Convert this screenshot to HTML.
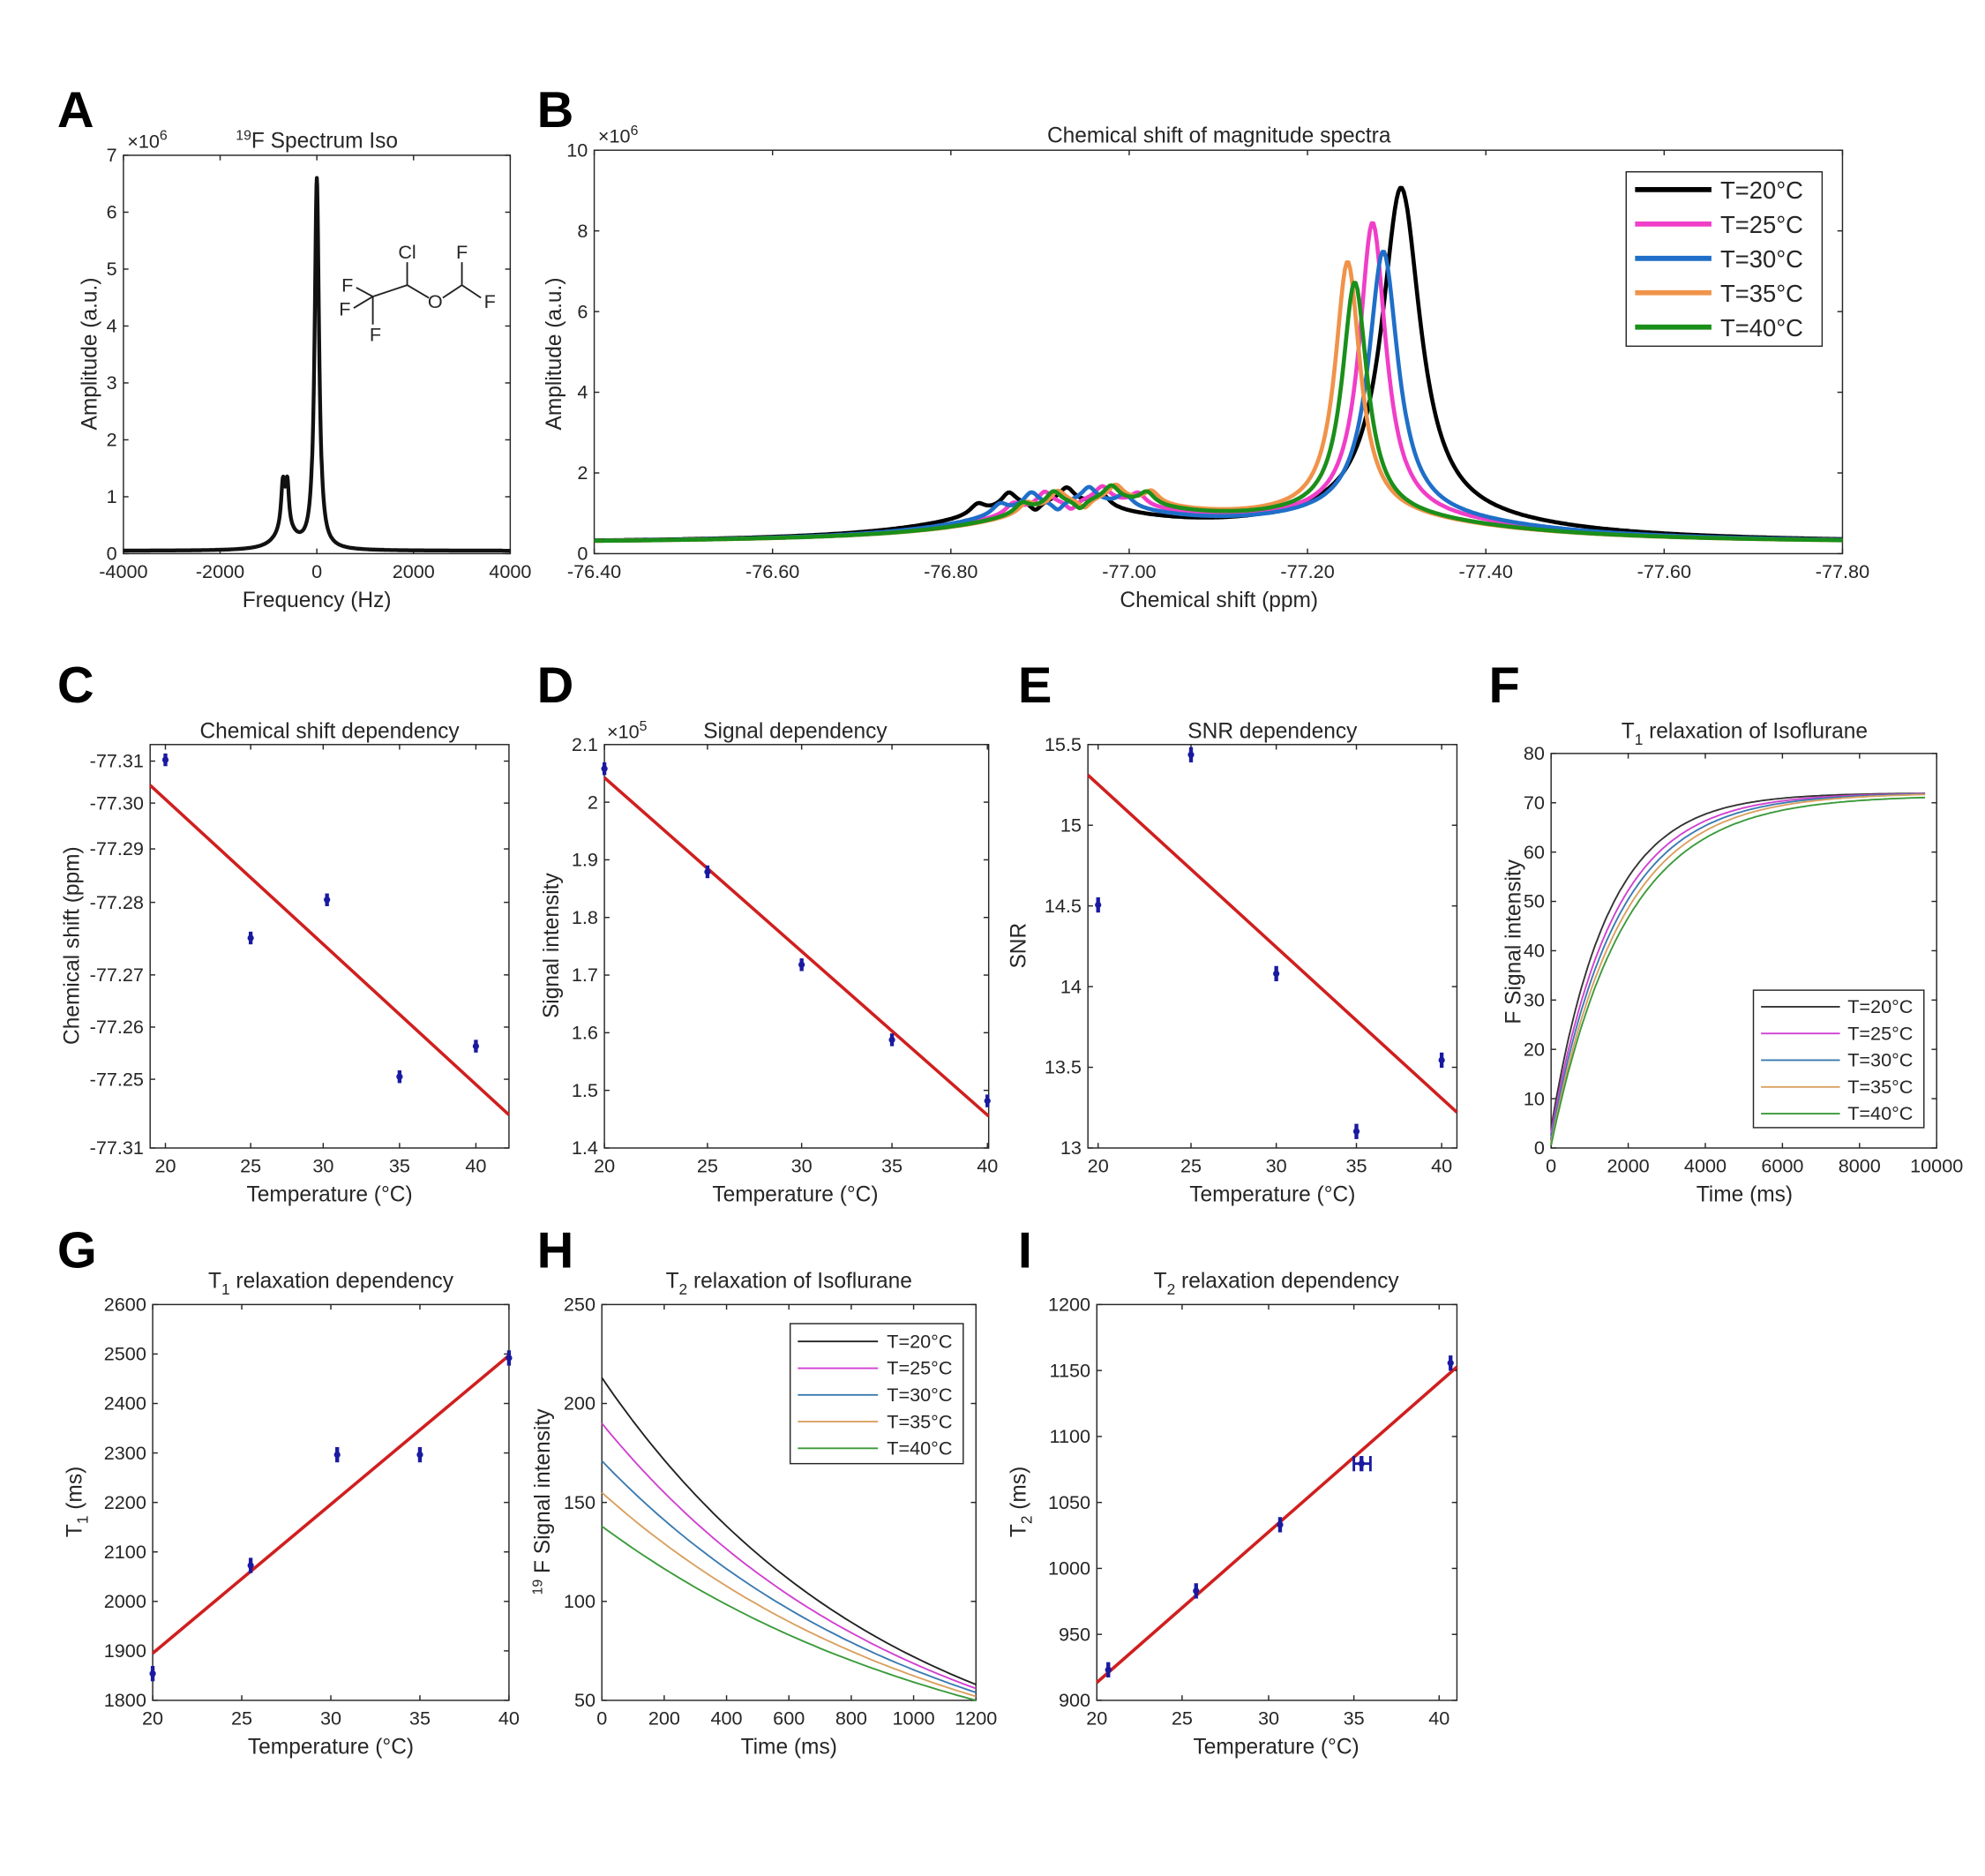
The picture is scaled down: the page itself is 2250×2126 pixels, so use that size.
<!DOCTYPE html>
<html><head><meta charset="utf-8"><style>
html,body{margin:0;padding:0;background:#fff;}
svg{display:block;}
text{font-family:"Liberation Sans",Arial,sans-serif;fill:#262626;}
.t{font-size:15px;}
.ti{font-size:17px;}
.lb{font-size:17px;}
.L{font-size:40px;font-weight:bold;fill:#000;}
.ax{fill:none;stroke:#262626;stroke-width:1;}
</style></head><body>
<svg id="s" width="2250" height="2126" viewBox="0 0 1560 1474" xmlns="http://www.w3.org/2000/svg">
<rect width="1560" height="1474" fill="#fff"/>
<g id="g"></g>
</svg>
<script>
var g=document.getElementById('g');var out='';
function T(x,y,s,cls,anchor,extra){out+='<text x="'+x+'" y="'+y+'" class="'+(cls||'t')+'" text-anchor="'+(anchor||'middle')+'" '+(extra||'')+'>'+s+'</text>';}
function box(x0,y0,x1,y1){out+='<rect x="'+x0+'" y="'+y0+'" width="'+(x1-x0)+'" height="'+(y1-y0)+'" class="ax"/>';}
function xt(x,y0,y1,lab){out+='<line x1="'+x+'" y1="'+y1+'" x2="'+x+'" y2="'+(y1-4)+'" stroke="#262626"/><line x1="'+x+'" y1="'+y0+'" x2="'+x+'" y2="'+(y0+4)+'" stroke="#262626"/>';T(x,y1+19,lab);}
function yt(y,x0,x1,lab){out+='<line x1="'+x0+'" y1="'+y+'" x2="'+(x0+4)+'" y2="'+y+'" stroke="#262626"/><line x1="'+x1+'" y1="'+y+'" x2="'+(x1-4)+'" y2="'+y+'" stroke="#262626"/>';T(x0-5,y+5,lab,'t','end');}
function path(pts,col,w){var d='M'+pts.map(function(p){return p[0].toFixed(1)+','+p[1].toFixed(1)}).join('L');out+='<path d="'+d+'" fill="none" stroke="'+col+'" stroke-width="'+w+'" stroke-linejoin="round"/>';}
function line(a,b,c,d,col,w){out+='<line x1="'+a+'" y1="'+b+'" x2="'+c+'" y2="'+d+'" stroke="'+col+'" stroke-width="'+w+'"/>';}
function pt(x,y,h){line(x,y-h,x,y+h,'#1a1aa0',3);out+='<circle cx="'+x+'" cy="'+y+'" r="2.5" fill="#1a1aa0"/>';}
function lor(x,c,w){return 1/(1+Math.pow((x-c)/w,2));}

T(45,100,'A','L','start');T(422,100,'B','L','start');T(45,552,'C','L','start');T(422,552,'D','L','start');
T(800,552,'E','L','start');T(1170,552,'F','L','start');T(45,996,'G','L','start');T(422,996,'H','L','start');T(800,996,'I','L','start');

// ---- A ----
var ax0=97,ax1=401,ay0=122,ay1=435;
box(ax0,ay0,ax1,ay1);
for(var i=0;i<=7;i++){yt(ay1-i*(ay1-ay0)/7,ax0,ax1,i);}
[-4000,-2000,0,2000,4000].forEach(function(v){xt(ax0+(v+4000)/8000*(ax1-ax0),ay0,ay1,v);});
T(100,116,'×10<tspan dy="-6" font-size="11">6</tspan>','t','start');
T(249,116,'<tspan dy="-6" font-size="11">19</tspan><tspan dy="6">F Spectrum Iso</tspan>','ti');
T(249,477,'Frequency (Hz)','lb');
T(76,278,'Amplitude (a.u.)','lb','middle','transform="rotate(-90 76 278)"');
var p=[];for(var f=-4000;f<=4000;f+=8){var a=6.5*lor(f,0,55)+0.8*lor(f,-700,45)+0.75*lor(f,-610,40)+0.35*lor(f,-650,250)+0.05;p.push([ax0+(f+4000)/8000*(ax1-ax0),ay1-a/7*(ay1-ay0)]);}
path(p,'#111',3);
out+='<g stroke="#222" stroke-width="1.3" fill="none"><line x1="293" y1="233" x2="320" y2="224"/><line x1="320" y1="224" x2="320" y2="206"/><line x1="320" y1="224" x2="337" y2="234"/><line x1="348" y1="234" x2="363" y2="224"/><line x1="363" y1="224" x2="363" y2="206"/><line x1="363" y1="224" x2="378" y2="234"/><line x1="293" y1="233" x2="280" y2="226"/><line x1="293" y1="233" x2="278" y2="242"/><line x1="293" y1="233" x2="293" y2="255"/></g>';
T(320,203,'Cl','t');T(342,242,'O','t');T(363,203,'F','t');T(385,242,'F','t');T(273,229,'F','t');T(271,248,'F','t');T(295,268,'F','t');

// ---- B ----
var bx0=467,bx1=1448,by0=118,by1=435;
box(bx0,by0,bx1,by1);
for(var i=0;i<=10;i+=2){yt(by1-i*(by1-by0)/10,bx0,bx1,i);}
for(var i=0;i<=7;i++){var v=-76.4-0.2*i;xt(bx0+i*(bx1-bx0)/7,by0,by1,v.toFixed(2));}
T(470,112,'×10<tspan dy="-6" font-size="11">6</tspan>','t','start');
T(958,112,'Chemical shift of magnitude spectra','ti');
T(958,477,'Chemical shift (ppm)','lb');
T(441,278,'Amplitude (a.u.)','lb','middle','transform="rotate(-90 441 278)"');
function bx(v){return bx0+(-76.4-v)/1.4*(bx1-bx0);}
function by(a){return by1-a/10*(by1-by0);}
var specs=[['#000',-77.305,8.15,0.0,0.026],['#f03ec8',-77.273,7.25,-0.04,0.018],['#1f6fc8',-77.285,6.55,-0.025,0.02],['#f0934a',-77.245,6.25,-0.055,0.017],['#1a8f1a',-77.253,5.75,-0.05,0.017]];
specs.forEach(function(s){var p=[];for(var v=-76.4;v>=-77.8;v-=0.002){var a=s[2]*lor(v,s[1],s[4])+0.6*lor(v,s[1],0.18)+0.25;
var m=-76.91+s[3];a+=0.9*lor(v,m,0.12)+0.35*lor(v,m+0.045,0.01)+0.35*lor(v,m-0.02,0.01)+0.3*lor(v,m-0.06,0.01)+0.25*lor(v,m+0.08,0.01)-0.25*lor(v,m+0.015,0.008);
p.push([bx(v),by(a)]);}path(p,s[0],3.2);});
out+='<rect x="1278" y="135" width="154" height="137" fill="#fff" stroke="#262626"/>';
var legs=['T=20°C','T=25°C','T=30°C','T=35°C','T=40°C'];
specs.forEach(function(s,i){var y=149+i*27;line(1285,y,1345,y,s[0],4);T(1352,y+7,legs[i],'lb','start','style="font-size:19px"');});

// ---- C ----
box(118,585,400,902);
[[598,'-77.31'],[631,'-77.30'],[667,'-77.29'],[709,'-77.28'],[766,'-77.27'],[807,'-77.26'],[848,'-77.25'],[902,'-77.31']].forEach(function(a){yt(a[0],118,400,a[1]);});
[[130,20],[197,25],[254,30],[314,35],[374,40]].forEach(function(a){xt(a[0],585,902,a[1]);});
T(259,580,'Chemical shift dependency','ti');T(259,944,'Temperature (°C)','lb');
T(62,743,'Chemical shift (ppm)','lb','middle','transform="rotate(-90 62 743)"');
line(118,617,400,876,'#d01f1f',2.5);
[[130,597],[197,737],[257,707],[314,846],[374,822]].forEach(function(q){pt(q[0],q[1],5);});

// ---- D ----
box(475,585,777,902);
for(var i=0;i<=7;i++){yt(902-i*(317/7),475,777,(1.4+i*0.1).toFixed(1).replace('2.0','2'));}
[[475,20],[556,25],[630,30],[701,35],[776,40]].forEach(function(a){xt(a[0],585,902,a[1]);});
T(477,580,'×10<tspan dy="-6" font-size="11">5</tspan>','t','start');
T(625,580,'Signal dependency','ti');T(625,944,'Temperature (°C)','lb');
T(439,743,'Signal intensity','lb','middle','transform="rotate(-90 439 743)"');
line(475,611,777,877,'#d01f1f',2.5);
[[475,604],[556,685],[630,758],[701,817],[776,865]].forEach(function(q){pt(q[0],q[1],5);});

// ---- E ----
box(855,585,1145,902);
['13','13.5','14','14.5','15','15.5'].forEach(function(l,i){yt(902-i*63.4,855,1145,l);});
[[863,20],[936,25],[1003,30],[1066,35],[1133,40]].forEach(function(a){xt(a[0],585,902,a[1]);});
T(1000,580,'SNR dependency','ti');T(1000,944,'Temperature (°C)','lb');
T(806,743,'SNR','lb','middle','transform="rotate(-90 806 743)"');
line(855,609,1145,874,'#d01f1f',2.5);
[[863,711],[936,593],[1003,765],[1066,889],[1133,833]].forEach(function(q){pt(q[0],q[1],6);});

// ---- F ----
var fx0=1219,fx1=1522,fy0=592,fy1=902;
box(fx0,fy0,fx1,fy1);
for(var i=0;i<=8;i++){yt(fy1-i*(fy1-fy0)/8,fx0,fx1,i*10);}
for(var i=0;i<=5;i++){xt(fx0+i*2000/10000*(fx1-fx0),fy0,fy1,i*2000);}
T(1371,580,'T<tspan dy="5" font-size="12">1</tspan><tspan dy="-5"> relaxation of Isoflurane</tspan>','ti');
T(1371,944,'Time (ms)','lb');
T(1195,740,'F Signal intensity','lb','middle','transform="rotate(-90 1195 740)"');
var fc=[['#333',1450,4],['#d040d0',1600,3],['#3a7ab0',1700,2],['#d9a060',1800,1],['#3a9a3a',1900,0.5]];
fc.forEach(function(c){var p=[];for(var t=0;t<=9700;t+=50){var s=72-(72-c[2])*Math.exp(-t/c[1]);if(c[1]==1900)s=71.5-(71.5-c[2])*Math.exp(-t/c[1]);p.push([fx0+t/10000*(fx1-fx0),fy1-s/80*(fy1-fy0)]);}path(p,c[0],1.3);});
out+='<rect x="1378" y="778" width="134" height="108" fill="#fff" stroke="#262626"/>';
fc.forEach(function(c,i){var y=791+i*21;line(1384,y,1446,y,c[0],1.3);T(1452,y+5,legs[i],'t','start');});

// ---- G ----
box(120,1025,400,1336);
for(var i=0;i<=8;i++){yt(1336-i*(311/8),120,400,1800+i*100);}
for(var i=0;i<=4;i++){xt(120+i*70,1025,1336,20+i*5);}
T(260,1012,'T<tspan dy="5" font-size="12">1</tspan><tspan dy="-5"> relaxation dependency</tspan>','ti');
T(260,1378,'Temperature (°C)','lb');
T(64,1180,'T<tspan dy="5" font-size="12">1</tspan><tspan dy="-5"> (ms)</tspan>','lb','middle','transform="rotate(-90 64 1180)"');
line(120,1299,400,1065,'#d01f1f',2.5);
[[120,1315],[197,1230],[265,1143],[330,1143],[400,1067]].forEach(function(q){pt(q[0],q[1],6);});

// ---- H ----
var hx0=473,hx1=767,hy0=1025,hy1=1336;
box(hx0,hy0,hx1,hy1);
for(var i=0;i<=4;i++){yt(hy1-i*(hy1-hy0)/4,hx0,hx1,50+i*50);}
for(var i=0;i<=6;i++){xt(hx0+i*(hx1-hx0)/6,hy0,hy1,i*200);}
T(620,1012,'T<tspan dy="5" font-size="12">2</tspan><tspan dy="-5"> relaxation of Isoflurane</tspan>','ti');
T(620,1378,'Time (ms)','lb');
T(432,1180,'<tspan dy="-6" font-size="11">19</tspan><tspan dy="6"> F Signal intensity</tspan>','lb','middle','transform="rotate(-90 432 1180)"');
var hc=[['#222',213,58],['#d040d0',190,56],['#3a7ab0',171,54],['#d9a060',155,52],['#3a9a3a',138,50]];
hc.forEach(function(c){var k=Math.log(c[1]/c[2])/1200;var p=[];for(var t=0;t<=1200;t+=20){var s=c[1]*Math.exp(-k*t);p.push([hx0+t/1200*(hx1-hx0),hy1-(s-50)/200*(hy1-hy0)]);}path(p,c[0],1.3);});
out+='<rect x="621" y="1040" width="136" height="110" fill="#fff" stroke="#262626"/>';
hc.forEach(function(c,i){var y=1054+i*21;line(627,y,690,y,c[0],1.3);T(697,y+5,legs[i],'t','start');});

// ---- I ----
box(862,1025,1145,1336);
for(var i=0;i<=6;i++){yt(1336-i*(311/6),862,1145,900+i*50);}
[[862,20],[929,25],[997,30],[1064,35],[1131,40]].forEach(function(a){xt(a[0],1025,1336,a[1]);});
T(1003,1012,'T<tspan dy="5" font-size="12">2</tspan><tspan dy="-5"> relaxation dependency</tspan>','ti');
T(1003,1378,'Temperature (°C)','lb');
T(806,1180,'T<tspan dy="5" font-size="12">2</tspan><tspan dy="-5"> (ms)</tspan>','lb','middle','transform="rotate(-90 806 1180)"');
line(862,1322,1145,1074,'#d01f1f',2.5);
[[871,1312],[940,1250],[1006,1198],[1070,1150],[1140,1071]].forEach(function(q){pt(q[0],q[1],6);});
line(1064,1150,1077,1150,'#1a1aa0',2);line(1064,1144,1064,1156,'#1a1aa0',2);line(1077,1144,1077,1156,'#1a1aa0',2);

g.innerHTML=out;
</script>
</body></html>
